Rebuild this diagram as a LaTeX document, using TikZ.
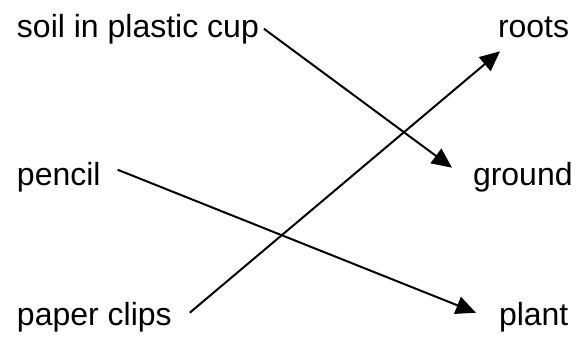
\documentclass[tikz,border=0pt]{standalone}
\usepackage{fontspec}
\setmainfont{Liberation Sans}
\usetikzlibrary{arrows.meta,positioning}

\begin{document}
\begin{tikzpicture}[x=0.5pt,y=-0.5pt,line width=1pt,
  >={Triangle[length=10pt,width=9pt]},
  every node/.style={inner sep=0pt,anchor=base west,font=\fontsize{16}{19}\selectfont}]
  \useasboundingbox (0,0) rectangle (584,337);
% left column
  \node (soil)    at (16,37)   {soil in plastic cup};
  \node (pencil)  at (16,185)  {pencil};
  \node (clips)   at (16,325)  {paper clips};
% right column
  \node (roots)   at (497,37)  {roots};
  \node (ground)  at (472,185) {ground};
  \node (plant)   at (498,325) {plant};

%   <from> edge (<to>)
  \path[->]
    ([xshift=2pt]soil.east)                  edge ([xshift=-10pt,yshift=4.5pt]ground.west)
    ([xshift=8pt,yshift=3.5pt]pencil.east)   edge ([xshift=-11pt,yshift=2pt]plant.west)
    ([xshift=8.5pt,yshift=2pt]clips.east)    edge ([xshift=1.5pt,yshift=-6.5pt]roots.south west);
\end{tikzpicture}
\end{document}
